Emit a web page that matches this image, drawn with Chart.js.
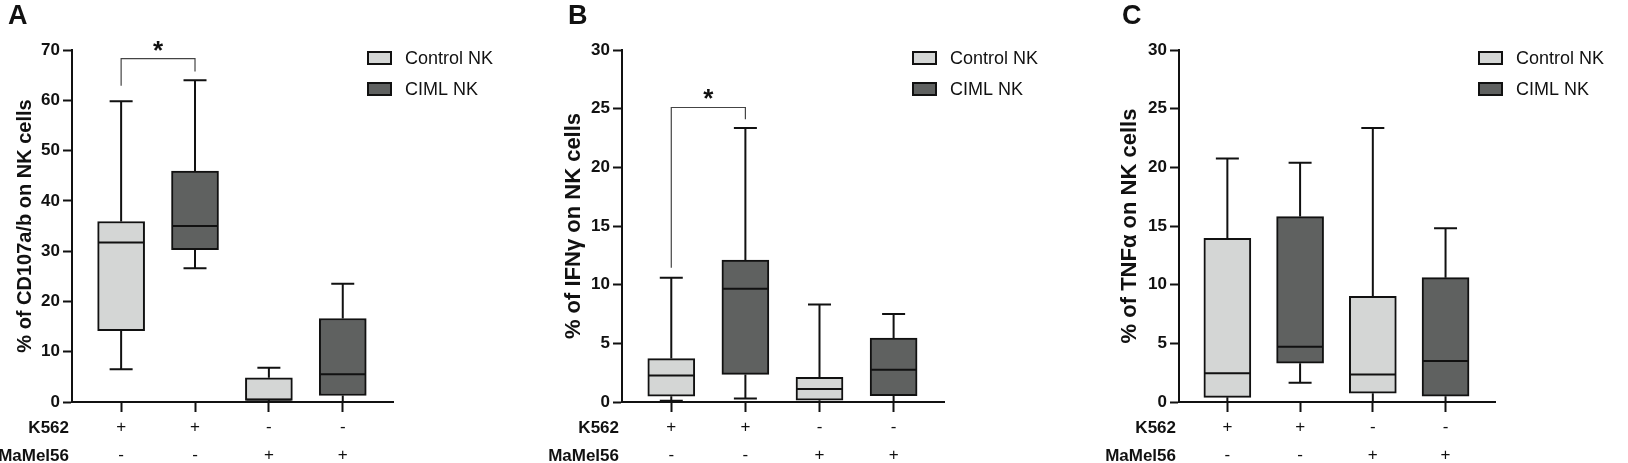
<!DOCTYPE html>
<html>
<head>
<meta charset="utf-8">
<script src="https://cdn.jsdelivr.net/npm/chart.js@4.4.1/dist/chart.umd.min.js"></script>
<style>
    html, body { margin: 0; padding: 0; background: #fff; }
    #page { position: relative; width: 1628px; height: 463px; overflow: hidden; }
    .panel { position: absolute; top: 0; height: 463px; }
</style>
</head>
<body>
<div id="page">
    <div class="panel" style="left:0;width:540px"><canvas id="chartA"></canvas></div>
    <div class="panel" style="left:540px;width:540px"><canvas id="chartB"></canvas></div>
    <div class="panel" style="left:1080px;width:548px"><canvas id="chartC"></canvas></div>
</div>
<script>
var groups = ['Control NK', 'CIML NK'];
var groupColors = ['#d4d6d5', '#5f6160'];
var rowTitles = ['K562', 'MaMel56'];
var k562Row = ['+', '+', '-', '-'];
var mamelRow = ['-', '-', '+', '+'];

// box order: Control K562, CIML K562, Control MaMel56, CIML MaMel56
var cdMin = [6.5, 26.6, 0, 0];
var cdQ1 = [14.2, 30.3, 0.3, 1.3];
var cdMed = [31.7, 35.0, 0.5, 5.5];
var cdQ3 = [35.9, 45.9, 4.8, 16.6];
var cdMax = [59.8, 64.0, 6.8, 23.5];

var ifnMin = [0.1, 0.3, 0, 0];
var ifnQ1 = [0.5, 2.35, 0.15, 0.55];
var ifnMed = [2.25, 9.65, 1.1, 2.75];
var ifnQ3 = [3.7, 12.1, 2.1, 5.45];
var ifnMax = [10.6, 23.35, 8.3, 7.5];

var tnfMin = [0, 1.65, 0, 0];
var tnfQ1 = [0.4, 3.3, 0.75, 0.5];
var tnfMed = [2.45, 4.7, 2.35, 3.5];
var tnfQ3 = [13.95, 15.8, 9.0, 10.6];
var tnfMax = [20.75, 20.4, 23.35, 14.8];

// significance brackets: from box, to box, bracket level, left foot, right foot
var sigA = [0, 1, 68.3, 62.9, 65.7];
var sigB = [0, 1, 25.1, 11.45, 24.1];

var INK = '#111111';
var FONT = '"Liberation Sans", Arial, Helvetica, sans-serif';

var boxExtras = {
    id: 'boxExtras',
    afterDatasetsDraw: function (chart) {
        var ctx = chart.ctx;
        var y = chart.scales.y;
        ctx.save();
        ctx.strokeStyle = INK;
        ctx.lineWidth = 2;
        chart.data.datasets.forEach(function (ds, di) {
            chart.getDatasetMeta(di).data.forEach(function (bar, j) {
                var s = ds.stats[j];
                var half = bar.width / 2;
                var cap = 11.5;
                var pMax = y.getPixelForValue(s.max);
                var pMin = y.getPixelForValue(s.min);
                var pQ3 = y.getPixelForValue(s.q3);
                var pQ1 = y.getPixelForValue(s.q1);
                var pMed = y.getPixelForValue(s.med);
                ctx.beginPath();
                ctx.moveTo(bar.x, pQ3);
                ctx.lineTo(bar.x, pMax);
                ctx.moveTo(bar.x - cap, pMax);
                ctx.lineTo(bar.x + cap, pMax);
                ctx.moveTo(bar.x, pQ1);
                ctx.lineTo(bar.x, pMin);
                ctx.moveTo(bar.x - cap, pMin);
                ctx.lineTo(bar.x + cap, pMin);
                ctx.moveTo(bar.x - half + 1, pMed);
                ctx.lineTo(bar.x + half - 1, pMed);
                ctx.stroke();
            });
        });
        ctx.restore();
    }
};

var panelDecor = {
    id: 'panelDecor',
    afterDraw: function (chart, args, opts) {
        var ctx = chart.ctx;
        var area = chart.chartArea;
        var x = chart.scales.x;
        var y = chart.scales.y;
        ctx.save();
        ctx.fillStyle = INK;

        // panel letter
        ctx.font = 'bold 27px ' + FONT;
        ctx.textAlign = 'left';
        ctx.textBaseline = 'alphabetic';
        ctx.fillText(opts.letter, opts.letterX, 24);

        // row titles for the +/- rows
        ctx.font = 'bold 17px ' + FONT;
        ctx.textAlign = 'right';
        ctx.textBaseline = 'middle';
        ctx.fillText(rowTitles[0], area.left - 3, area.bottom + 26);
        ctx.fillText(rowTitles[1], area.left - 3, area.bottom + 54);

        // legend
        ctx.lineWidth = 2;
        ctx.strokeStyle = INK;
        ctx.font = '18px ' + FONT;
        ctx.textAlign = 'left';
        groups.forEach(function (name, g) {
            var by = 52 + g * 31;
            ctx.fillStyle = groupColors[g];
            ctx.fillRect(opts.legendX, by, 23, 12);
            ctx.strokeRect(opts.legendX, by, 23, 12);
            ctx.fillStyle = INK;
            ctx.fillText(name, opts.legendX + 37, by + 7);
        });

        // significance bracket
        if (opts.sig) {
            var s = opts.sig;
            var x0 = x.getPixelForValue(s[0]);
            var x1 = x.getPixelForValue(s[1]);
            var yb = y.getPixelForValue(s[2]);
            ctx.strokeStyle = '#444';
            ctx.lineWidth = 1.2;
            ctx.beginPath();
            ctx.moveTo(x0, y.getPixelForValue(s[3]));
            ctx.lineTo(x0, yb);
            ctx.lineTo(x1, yb);
            ctx.lineTo(x1, y.getPixelForValue(s[4]));
            ctx.stroke();
            ctx.fillStyle = INK;
            ctx.font = 'bold 26px ' + FONT;
            ctx.textAlign = 'center';
            ctx.textBaseline = 'alphabetic';
            ctx.fillText('*', (x0 + x1) / 2, yb);
        }
        ctx.restore();
    }
};

function buildDatasets(st) {
    return groups.map(function (name, g) {
        var idx = g === 0 ? [0, 2] : [1, 3];
        return {
            label: name,
            data: idx.map(function (i) { return {x: i, y: [st.q1[i], st.q3[i]]}; }),
            stats: idx.map(function (i) {
                return {min: st.min[i], q1: st.q1[i], med: st.med[i], q3: st.q3[i], max: st.max[i]};
            }),
            backgroundColor: groupColors[g],
            borderColor: INK,
            borderWidth: 2,
            borderSkipped: false,
            barThickness: 47,
            grouped: false
        };
    });
}

function makePanel(id, p) {
    return new Chart(document.getElementById(id), {
        type: 'bar',
        data: { datasets: buildDatasets(p.stats) },
        plugins: [boxExtras, panelDecor],
        options: {
            responsive: true,
            maintainAspectRatio: false,
            animation: false,
            events: [],
            layout: {
                autoPadding: false,
                padding: { top: 50, right: p.right, left: 0, bottom: 0 }
            },
            scales: {
                x: {
                    type: 'linear',
                    offset: false,
                    min: -0.665,
                    max: 3.68,
                    afterBuildTicks: function (axis) {
                        axis.ticks = k562Row.map(function (_, i) { return {value: i}; });
                    },
                    afterFit: function (axis) { axis.height = 61; },
                    grid: {
                        offset: false,
                        drawOnChartArea: false,
                        tickLength: 10,
                        tickWidth: 2,
                        tickColor: INK,
                        color: INK
                    },
                    border: { color: INK, width: 2 },
                    ticks: {
                        padding: 1,
                        autoSkip: false,
                        maxRotation: 0,
                        color: INK,
                        font: { family: FONT, size: 17, lineHeight: 28 / 17 },
                        callback: function (v, i) { return [k562Row[i], mamelRow[i]]; }
                    }
                },
                y: {
                    min: 0,
                    max: p.max,
                    afterFit: function (axis) { axis.width = p.left; },
                    grid: {
                        drawOnChartArea: false,
                        tickLength: 9,
                        tickWidth: 2,
                        tickColor: INK,
                        color: INK
                    },
                    border: { color: INK, width: 2 },
                    ticks: {
                        stepSize: p.step,
                        padding: 3,
                        color: INK,
                        font: { family: FONT, size: 17, weight: 'bold' }
                    },
                    title: {
                        display: true,
                        text: p.title,
                        color: INK,
                        font: { family: FONT, size: p.titleSize, weight: 'bold' },
                        padding: { top: p.titlePad, bottom: 0 }
                    }
                }
            },
            plugins: {
                legend: { display: false },
                tooltip: { enabled: false },
                panelDecor: { letter: p.letter, letterX: p.letterX, legendX: p.legendX, sig: p.sig }
            }
        }
    });
}

makePanel('chartA', {
    letter: 'A', letterX: 8, legendX: 368,
    title: '% of CD107a/b on NK cells', titleSize: 20, titlePad: 13,
    left: 72, right: 147, max: 70, step: 10,
    stats: { min: cdMin, q1: cdQ1, med: cdMed, q3: cdQ3, max: cdMax },
    sig: sigA
});

makePanel('chartB', {
    letter: 'B', letterX: 28, legendX: 373,
    title: '% of IFNγ on NK cells', titleSize: 22, titlePad: 21,
    left: 82, right: 136, max: 30, step: 5,
    stats: { min: ifnMin, q1: ifnQ1, med: ifnMed, q3: ifnQ3, max: ifnMax },
    sig: sigB
});

makePanel('chartC', {
    letter: 'C', letterX: 42, legendX: 399,
    title: '% of TNFα on NK cells', titleSize: 22, titlePad: 37,
    left: 99, right: 133, max: 30, step: 5,
    stats: { min: tnfMin, q1: tnfQ1, med: tnfMed, q3: tnfQ3, max: tnfMax },
    sig: null
});
</script>
</body>
</html>
